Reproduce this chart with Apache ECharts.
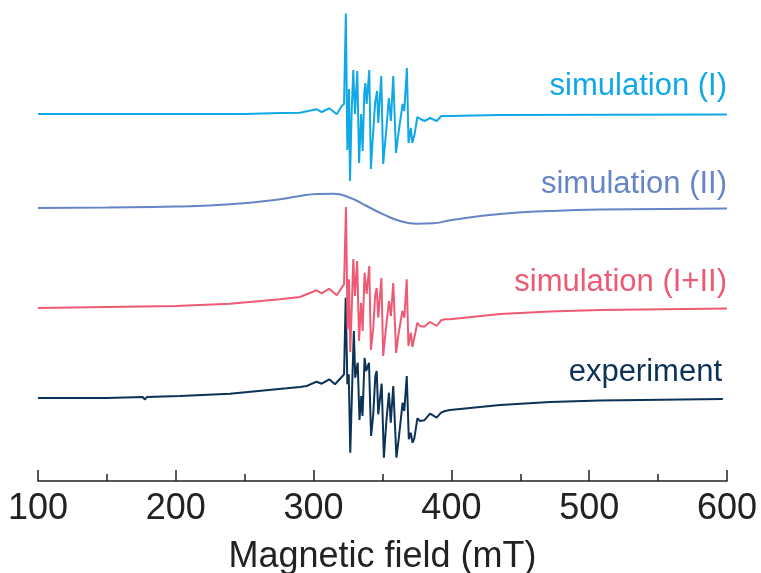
<!DOCTYPE html>
<html>
<head>
<meta charset="utf-8">
<script src="https://cdn.jsdelivr.net/npm/echarts@6/dist/echarts.min.js"></script>
<style>
  html, body { margin: 0; padding: 0; background: #fff; }
  #chart { width: 761px; height: 573px; }
</style>
</head>
<body>
<div id="chart"></div>
<script>
// EPR spectra: field in mT, intensity in arbitrary units relative to each trace's baseline
const fieldTicks = [100, 200, 300, 400, 500, 600];

const simI = [
  [100,0],[200,0],[250,0],[275.6,0.01],[290.1,0.013],[302.2,0.047],[305.9,0.02],[311.4,0.057],
  [316.8,-0.003],[320.4,0.08],[322.1,0.10],[323.4,1.005],[324.5,-0.36],[325.7,0.25],[326.4,-0.67],
  [327.6,0.02],[328.8,0.44],[330.0,0.0],[331.7,0.43],[333.0,-0.49],[334.5,0.0],[335.6,-0.37],
  [336.8,0.22],[337.6,0.31],[338.5,0.10],[340.4,0.44],[341.6,-0.55],[342.9,-0.25],[344.7,0.12],
  [346.1,0.23],[346.9,-0.09],[349.1,0.38],[350.5,-0.50],[352.8,-0.15],[354.6,0.16],[356.1,-0.07],
  [357.8,0.38],[359.8,-0.39],[361.6,-0.19],[363.0,-0.17],[364.6,0.10],[365.8,0.03],[367.7,0.46],
  [368.9,-0.29],[370.6,-0.14],[371.6,-0.29],[373.3,-0.20],[375.3,-0.03],[377.5,-0.05],[380.5,-0.07],
  [384.5,-0.04],[389.3,-0.07],[392.7,-0.02],[399,-0.02],[435,-0.01],[600,-0.005]
];

const simII = [
  [100,0],[150,0.005],[200,0.015],[239.3,0.037],[275.6,0.087],[290.1,0.12],[302.2,0.14],
  [314.3,0.143],[326.4,0.103],[338.5,0.02],[350.6,-0.063],[362.7,-0.13],[374.8,-0.157],
  [386.9,-0.153],[399,-0.123],[435.3,-0.06],[471.6,-0.03],[507.8,-0.015],[600,-0.005]
];

const simSum = [
  [100,0],[150,0.01],[200,0.02],[239.3,0.043],[275.6,0.087],[290.1,0.11],[302.2,0.177],[305.9,0.147],
  [311.4,0.193],[316.8,0.127],[320.4,0.203],[322.1,0.237],[323.5,1.01],[324.7,-0.213],[325.7,0.287],
  [326.6,-0.44],[327.9,0.087],[328.8,0.49],[330.0,0.12],[331.6,0.47],[333.0,-0.33],[334.4,0.053],
  [335.6,-0.23],[337.0,0.353],[338.5,0.14],[340.4,0.42],[341.6,-0.42],[343.3,-0.2],[344.7,0.13],
  [345.8,0.2],[346.9,-0.097],[349.2,0.30],[350.5,-0.48],[352.8,-0.163],[354.7,0.07],[356.1,-0.08],
  [357.8,0.25],[359.9,-0.45],[361.6,-0.263],[362.7,-0.247],[364.4,-0.03],[365.8,-0.097],[367.6,0.287],
  [368.8,-0.38],[370.5,-0.247],[371.7,-0.39],[373.1,-0.297],[375.3,-0.147],[377.2,-0.18],[380.3,-0.187],
  [384.5,-0.14],[389.3,-0.18],[392.5,-0.123],[395.4,-0.113],[399,-0.113],[435.3,-0.06],[471.6,-0.035],
  [507.8,-0.02],[600,-0.005]
];

const experiment = [
  [100,0],[150,0],[176,0.01],[177.6,-0.015],[179,0.01],[203,0.02],[239.3,0.043],[280.5,0.097],
  [290.1,0.11],[295,0.12],[302.2,0.163],[305.9,0.143],[311.4,0.187],[315.5,0.137],[320.4,0.21],
  [322.1,0.237],[323.3,1.003],[324.5,0.137],[325.5,0.237],[326.6,-0.547],[327.9,0.08],[329.2,0.67],
  [330.2,0.203],[332.0,0.353],[333.3,-0.22],[334.6,0.02],[335.5,-0.18],[337.0,0.40],[338.2,0.27],
  [340.2,0.353],[341.7,-0.38],[343.3,-0.163],[344.8,0.22],[345.8,0.27],[346.9,-0.163],[349.4,0.143],
  [351.0,-0.597],[352.8,-0.23],[354.7,0.053],[356.0,-0.247],[357.8,0.12],[360.1,-0.597],[362.0,-0.38],
  [363,-0.36],[364.6,-0.047],[365.8,-0.13],[367.6,0.22],[369.1,-0.413],[370.5,-0.347],[371.8,-0.447],
  [373.1,-0.403],[375.3,-0.203],[377.2,-0.23],[380.3,-0.223],[384.5,-0.157],[389.3,-0.197],
  [392.5,-0.147],[395.4,-0.13],[399,-0.12],[435.3,-0.07],[471.6,-0.04],[507.8,-0.025],[597,-0.01]
];

const traceNames = ['simulation (I)', 'simulation (II)', 'simulation (I+II)', 'experiment'];
const traceOffsets = [3.67, 2.73, 1.73, 0.83];
const traceColors = ['#10a8e6', '#6685c6', '#ee5a74', '#0c3257'];
const traceData = [simI, simII, simSum, experiment];

const FONT = '"Liberation Sans", Arial, sans-serif';

const chart = echarts.init(document.getElementById('chart'));

const series = traceData.map((d, i) => ({
  name: traceNames[i],
  type: 'line',
  data: d.map(([b, v]) => [b, v + traceOffsets[i]]),
  showSymbol: false,
  smooth: i === 1,
  lineStyle: { color: traceColors[i], width: 2 },
  z: 10 - i,
  silent: true
}));

// trace names, right-aligned above each baseline
const labelY = [86, 184, 282, 372];
const labelRight = [727, 727, 727, 722];
const graphic = traceNames.map((t, i) => ({
  type: 'text',
  style: {
    text: t,
    x: labelRight[i],
    y: labelY[i],
    align: 'right',
    verticalAlign: 'middle',
    fill: traceColors[i],
    font: '31px ' + FONT
  }
}));

chart.setOption({
  animation: false,
  grid: { left: 38, right: 34, top: 0, bottom: 92, containLabel: false, outerBoundsMode: 'none' },
  xAxis: {
    type: 'value',
    min: fieldTicks[0],
    max: fieldTicks[fieldTicks.length - 1],
    interval: 100,
    name: 'Magnetic field (mT)',
    nameLocation: 'middle',
    nameGap: 58,
    nameTextStyle: { fontSize: 36, color: '#222', fontFamily: FONT },
    axisLine: { lineStyle: { color: '#222', width: 1.5 } },
    axisTick: { inside: true, length: 11, lineStyle: { color: '#222', width: 1.5 } },
    minorTick: { show: true, splitNumber: 2, length: 7, lineStyle: { color: '#222', width: 1.5 } },
    axisLabel: { fontSize: 36, color: '#222', fontFamily: FONT, margin: 10 },
    splitLine: { show: false }
  },
  yAxis: {
    type: 'value',
    min: 0,
    max: 4.81,
    show: false
  },
  graphic: graphic,
  series: series
});
</script>
</body>
</html>
